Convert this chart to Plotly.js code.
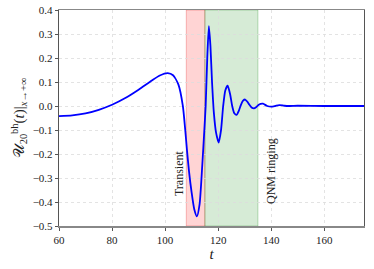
<!DOCTYPE html>
<html><head><meta charset="utf-8">
<script src="https://cdn.plot.ly/plotly-3.0.1.min.js"></script>
<style>html,body{margin:0;padding:0;background:#fff}#chart{width:374px;height:269px}</style>
</head><body><div id="chart"></div>
<script>
const tValues = [60, 65, 70, 75, 80, 85, 90, 95, 98, 101, 103, 105, 106.7, 107.6, 108.3, 109, 110, 111, 112, 113, 114, 114.8, 115.3, 115.9, 116.5, 117.1, 117.7, 118.4, 119.2, 120.2, 121.1, 121.9, 122.7, 123.6, 124.5, 125.3, 126.1, 127, 127.8, 128.6, 129.4, 130.2, 131, 131.8, 132.6, 133.5, 134.3, 135.2, 136, 136.9, 138.5, 140, 141.5, 143, 145, 147, 150, 160, 175];
const uValues = [-0.042, -0.039, -0.031, -0.016, 0.005, 0.033, 0.068, 0.106, 0.127, 0.137, 0.128, 0.09, 0.0, -0.1, -0.19, -0.27, -0.36, -0.43, -0.46, -0.41, -0.25, -0.1, 0.0, 0.2, 0.333, 0.25, 0.1, -0.03, -0.11, -0.152, -0.1, 0.0, 0.065, 0.085, 0.05, 0.0, -0.03, -0.037, -0.02, 0.005, 0.022, 0.027, 0.018, 0.005, -0.006, -0.01, -0.005, 0.004, 0.009, 0.01, 0.0, -0.003, 0.0, 0.004, 0.001, 0.0, 0.001, 0.0, 0.0];
const transientRange = [108, 115];
const qnmRange = [115, 135];
const xTicks = [60, 80, 100, 120, 140, 160];
const yTicks = [-0.5, -0.4, -0.3, -0.2, -0.1, 0.0, 0.1, 0.2, 0.3, 0.4];
const labels = ["Transient", "QNM ringing"];

const serif = "Liberation Serif, DejaVu Serif, serif";
const tickFont = {family: serif, size: 11, color: "#222"};
const trace = {x: tValues, y: uValues, mode: "lines", line: {color: "#0000ff", width: 1.8, shape: "spline", smoothing: 0.6}, hoverinfo: "skip"};
const layout = {
  width: 374, height: 269,
  margin: {l: 59, r: 10, t: 10, b: 43},
  paper_bgcolor: "#fff", plot_bgcolor: "#fff",
  showlegend: false,
  font: {family: serif, size: 11, color: "#222"},
  xaxis: {range: [60, 175], tickvals: xTicks, ticktext: xTicks.map(String), ticks: "outside", ticklen: 3, tickcolor: "#555", tickfont: tickFont,
    showgrid: true, gridcolor: "#dcdcdc", griddash: "dot", gridwidth: 0.8, zeroline: false,
    showline: true, linecolor: "#888", linewidth: 1.5, mirror: true,
    title: {text: "<i>t</i>", font: {family: serif, size: 15}, standoff: 2}},
  yaxis: {range: [-0.5, 0.4], tickvals: yTicks, tickformat: ".1f", ticks: "outside", ticklen: 3, tickcolor: "#555", tickfont: tickFont,
    showgrid: true, gridcolor: "#dcdcdc", griddash: "dot", gridwidth: 0.8, zeroline: false,
    showline: true, linecolor: "#555", linewidth: 1.2, mirror: true,
    title: {text: "𝒰<sub>20</sub><sup>bh</sup>(<i>t</i>)|<sub><i>x</i>→+∞</sub>", font: {family: serif, size: 15}, standoff: 4}},
  shapes: [
    {type: "rect", xref: "x", yref: "paper", x0: transientRange[0], x1: transientRange[1], y0: 0, y1: 1, fillcolor: "rgba(255,0,0,0.17)", line: {color: "rgba(220,0,0,0.25)", width: 1}, layer: "below"},
    {type: "rect", xref: "x", yref: "paper", x0: qnmRange[0], x1: qnmRange[1], y0: 0, y1: 1, fillcolor: "rgba(0,128,0,0.16)", line: {color: "rgba(0,128,0,0.25)", width: 1}, layer: "below"}
  ],
  annotations: [
    {x: 105.2, y: -0.28, xref: "x", yref: "y", text: labels[0], textangle: -90, showarrow: false, font: {family: serif, size: 12, color: "#222"}},
    {x: 140, y: -0.27, xref: "x", yref: "y", text: labels[1], textangle: -90, showarrow: false, font: {family: serif, size: 12, color: "#222"}}
  ]
};
Plotly.newPlot("chart", [trace], layout, {staticPlot: true, displayModeBar: false});
</script></body></html>
